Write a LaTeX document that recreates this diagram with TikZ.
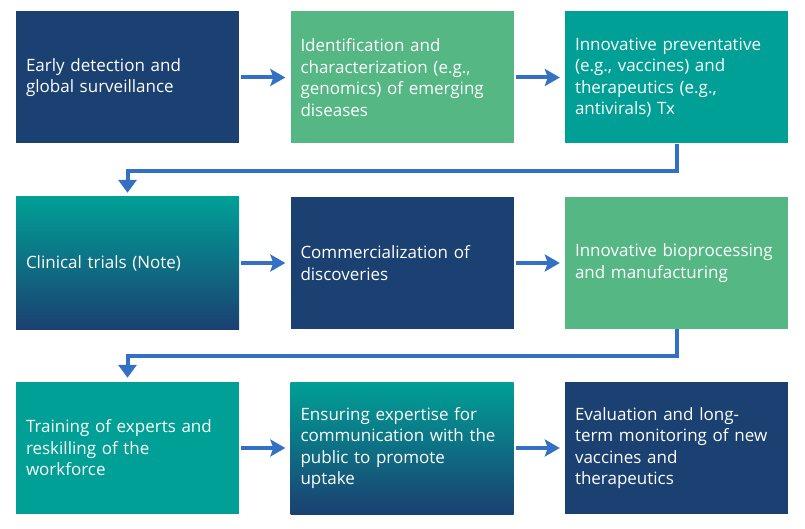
\documentclass[tikz,border=0pt]{standalone}
\usepackage{fontspec}
\setmainfont{Open Sans}
\usetikzlibrary{arrows.meta}
\definecolor{dblue}{RGB}{27,64,114}
\definecolor{lgreen}{RGB}{85,184,132}
\definecolor{teal1}{RGB}{0,160,150}
\definecolor{arrowblue}{RGB}{52,113,196}
\tikzset{
  box/.style={rectangle, minimum width=223pt, minimum height=132pt, text width=203pt,
    inner xsep=10pt, inner ysep=0pt, align=left, text=white,
    font=\fontsize{17}{21.5}\selectfont},
  solidblue/.style={box, fill=dblue},
  solidgreen/.style={box, fill=lgreen},
  solidteal/.style={box, fill=teal1},
  gradbox/.style={box, top color=teal1, bottom color=dblue, middle color=teal1!50!dblue},
  conn/.style={draw=arrowblue, line width=4pt, -{Stealth[length=15pt,width=17pt,inset=3pt]}},
  elbow/.style={draw=arrowblue, line width=4pt, -{Triangle[length=13pt,width=18pt]}}
}
\begin{document}
\begin{tikzpicture}[x=1pt,y=1pt]
\useasboundingbox (0,0) rectangle (805,528);
\fill[white] (0,0) rectangle (805,528);
% row 1 (centre y = 528-77.5)
\node[solidblue] (b1) at (127.5,450.5) {Early detection and\\global surveillance};
\node[solidgreen] (b2) at (402,450.5) {Identification and\\characterization (e.g.,\\genomics) of emerging\\diseases};
\node[solidteal] (b3) at (676.5,450.5) {Innovative preventative\\(e.g., vaccines) and\\therapeutics (e.g.,\\antivirals) Tx};
% row 2
\node[gradbox] (b4) at (127.5,265) {Clinical trials (Note)};
\node[solidblue] (b5) at (402,265) {Commercialization of\\discoveries};
\node[solidgreen] (b6) at (676.5,265) {Innovative bioprocessing\\and manufacturing};
% row 3
\node[solidteal] (b7) at (127.5,80) {Training of experts and\\reskilling of the\\workforce};
\node[gradbox] (b8) at (402,80) {Ensuring expertise for\\communication with the\\public to promote\\uptake};
\node[solidblue] (b9) at (676.5,80) {Evaluation and long-\\term monitoring of new\\vaccines and\\therapeutics};
% horizontal connectors
\draw[conn] ([xshift=2pt]b1.east) -- ([xshift=-5pt]b2.west);
\draw[conn] ([xshift=2pt]b2.east) -- ([xshift=-5pt]b3.west);
\draw[conn] ([xshift=2pt]b4.east) -- ([xshift=-5pt]b5.west);
\draw[conn] ([xshift=2pt]b5.east) -- ([xshift=-5pt]b6.west);
\draw[conn] ([xshift=2pt]b7.east) -- ([xshift=-5pt]b8.west);
\draw[conn] ([xshift=2pt]b8.east) -- ([xshift=-5pt]b9.west);
% elbow connectors
\draw[elbow] (b3.south) -- ++(0,-27) -| ([yshift=4pt]b4.north);
\draw[elbow] (b6.south) -- ++(0,-27) -| ([yshift=4pt]b7.north);
\end{tikzpicture}
\end{document}
